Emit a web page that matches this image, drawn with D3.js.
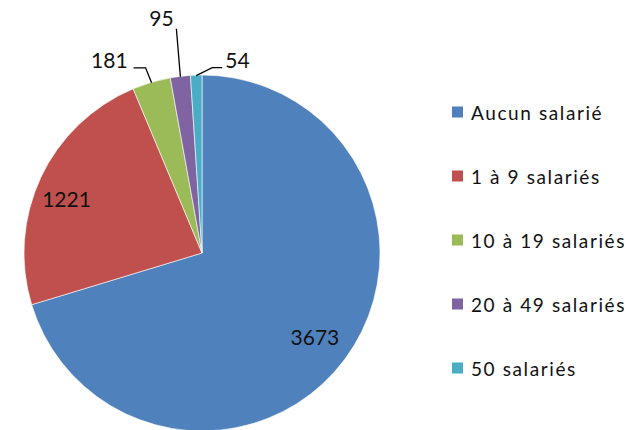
<!DOCTYPE html>
<html>
<head>
<meta charset="utf-8">
<script src="https://cdn.jsdelivr.net/npm/d3@7"></script>
<style>
  html, body { margin: 0; padding: 0; background: #fff; }
  svg { display: block; }
  text { font-family: "Century Gothic", Lato, "Open Sans", sans-serif; fill: #111; }
</style>
</head>
<body>
<svg id="chart" width="628" height="430"></svg>
<script>
const categories = ["Aucun salarié", "1 à 9 salariés", "10 à 19 salariés", "20 à 49 salariés", "50 salariés"];
const values = [3673, 1221, 181, 95, 54];
const colors = ["#4F81BD", "#C0504D", "#9BBB59", "#8064A2", "#4BACC6"];

const W = 628, H = 430;
const cx = 202, cy = 253, R = 178;

const svg = d3.select("#chart");
const g = svg.append("g").attr("transform", `translate(${cx},${cy})`);

const pie = d3.pie().sort(null).value(d => d.value);
const data = pie(categories.map((c, i) => ({ cat: c, value: values[i], color: colors[i] })));
const arc = d3.arc().innerRadius(0).outerRadius(R);

g.selectAll("path.slice").data(data).enter().append("path")
  .attr("class", "slice")
  .attr("d", arc)
  .attr("fill", d => d.data.color)
  .attr("stroke", "#fff")
  .attr("stroke-width", 0.6);

// inside labels (large slices): layout radius factor and angular nudge
const insideLayout = {
  "Aucun salarié": { rf: 0.79, da: 0 },
  "1 à 9 salariés": { rf: 0.82, da: -0.058 }
};
g.selectAll("text.inside").data(data.filter(d => insideLayout[d.data.cat])).enter().append("text")
  .attr("class", "inside")
  .each(function(d) {
    const L = insideLayout[d.data.cat];
    const a = (d.startAngle + d.endAngle) / 2 + L.da;
    d3.select(this)
      .attr("x", Math.sin(a) * R * L.rf)
      .attr("y", -Math.cos(a) * R * L.rf);
  })
  .attr("text-anchor", "middle")
  .attr("dominant-baseline", "central")
  .attr("font-size", 21)
  .text(d => d.data.value);

// outside labels with leader lines (layout: elbow offsets relative to slice edge point)
const leaders = {
  "10 à 19 salariés": { elbow: [-6, -15], end: [-18, -15], anchor: "end", tdx: -6, tdy: 0 },
  "20 à 49 salariés": { elbow: [-4, -48], end: [-4, -48], anchor: "middle", tdx: -15, tdy: -3 },
  "50 salariés": { elbow: [16, -8], end: [26, -8], anchor: "start", tdx: 3, tdy: 0 }
};
const edge = d => {
  const a = (d.startAngle + d.endAngle) / 2;
  return [Math.sin(a) * (R - 0.5), -Math.cos(a) * (R - 0.5)];
};
data.filter(d => leaders[d.data.cat]).forEach(d => {
  const L = leaders[d.data.cat];
  const p = edge(d);
  const e = [p[0] + L.elbow[0], p[1] + L.elbow[1]];
  const f = [p[0] + L.end[0], p[1] + L.end[1]];
  g.append("path")
    .attr("d", d3.line()([p, e, f]))
    .attr("fill", "none")
    .attr("stroke", "#000")
    .attr("stroke-width", 1.3);
  g.append("text")
    .attr("x", f[0] + L.tdx)
    .attr("y", f[1] + L.tdy)
    .attr("text-anchor", L.anchor)
    .attr("font-size", 21)
    .text(d.data.value);
});

// legend
const legendY = d3.scalePoint().domain(categories).range([112, 368]);
const lg = svg.append("g");
const items = lg.selectAll("g.item").data(data).enter().append("g")
  .attr("class", "item")
  .attr("transform", d => `translate(452,${legendY(d.data.cat)})`);
items.append("rect")
  .attr("x", 0).attr("y", -5.5).attr("width", 11).attr("height", 11)
  .attr("fill", d => d.data.color);
items.append("text")
  .attr("x", 19).attr("y", 0)
  .attr("dominant-baseline", "central")
  .attr("font-size", 19)
  .attr("letter-spacing", 1.6)
  .text(d => d.data.cat);
</script>
</body>
</html>
